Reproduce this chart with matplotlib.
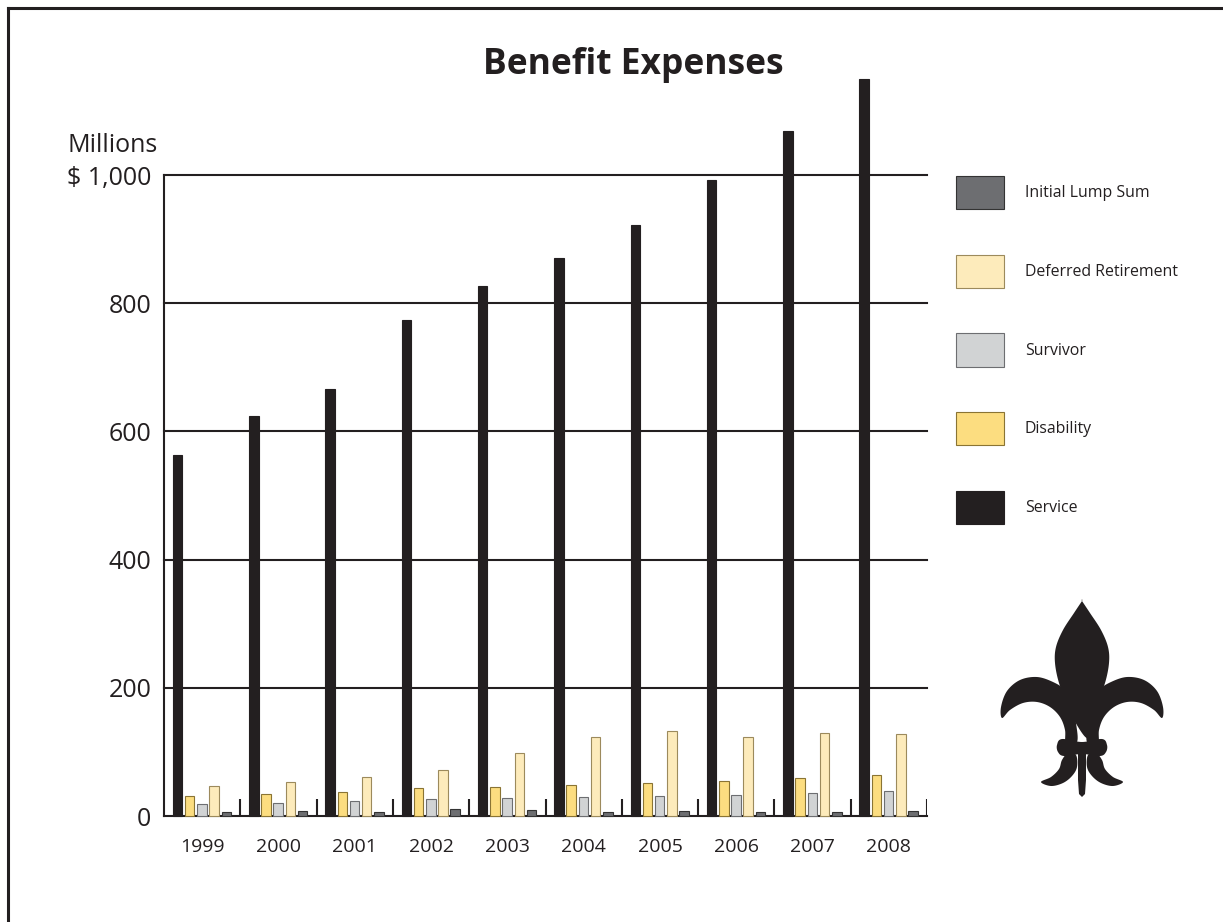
import numpy as np
import matplotlib.pyplot as plt
from matplotlib.lines import Line2D
from matplotlib.patches import Polygon, Rectangle
from matplotlib.transforms import Affine2D

plt.rcParams['font.family'] = ['Open Sans', 'DejaVu Sans']
plt.rcParams['text.color'] = '#231f20'

# benefit expenses, millions of dollars
years = ['1999', '2000', '2001', '2002', '2003', '2004', '2005', '2006', '2007', '2008']
service = [563, 624, 666, 774, 827, 870, 922, 992, 1069, 1150]
disability = [31, 35, 37, 43, 46, 48, 51, 55, 59, 64]
survivor = [19, 21, 23, 26, 28, 30, 31, 33, 36, 39]
deferred = [47, 53, 61, 71, 98, 124, 133, 123, 129, 128]
lump_sum = [7, 8, 6, 11, 9, 7, 8, 6, 6, 8]

y_ticks = [0, 200, 400, 600, 800, 1000]
y_labels = ['0', '200', '400', '600', '800', '$ 1,000']

series = [
    ('Service', service, '#231f20', '#231f20'),
    ('Disability', disability, '#fcdd80', '#8a7434'),
    ('Survivor', survivor, '#d1d3d4', '#6d6e71'),
    ('Deferred Retirement', deferred, '#fdebbb', '#9c8a5c'),
    ('Initial Lump Sum', lump_sum, '#6d6e71', '#333333'),
]
styles = {name: (fc, ec) for name, _, fc, ec in series}

W, H = 1223, 922
fig = plt.figure(figsize=(W / 100, H / 100), dpi=100)
ax = fig.add_axes([164 / W, 1 - 816 / H, (927 - 164) / W, (816 - 175) / H])

x = np.arange(len(years))
for k, (name, vals, fc, ec) in enumerate(series):
    ax.bar(x + 0.177 + 0.16 * k, vals, width=0.125, color=fc,
           edgecolor=ec, linewidth=0.8, clip_on=False, zorder=3, label=name)

ax.set_xlim(0, len(years))
ax.set_ylim(0, 1000)

# horizontal rules and group separators
for t in y_ticks[1:]:
    ax.axhline(t, color='#231f20', lw=1.5, zorder=1, clip_on=False)
ax.vlines(np.arange(1, len(years) + 1), 0, 27, color='#231f20', lw=1.5, zorder=2)

for s in ['top', 'right']:
    ax.spines[s].set_visible(False)
for s in ['left', 'bottom']:
    ax.spines[s].set_linewidth(1.5)
    ax.spines[s].set_color('#231f20')

ax.set_yticks(y_ticks)
ax.set_yticklabels(y_labels, fontsize=18, color='#231f20')
ax.set_xticks(x + 0.5)
ax.set_xticklabels(years, fontsize=14, color='#231f20')
ax.tick_params(axis='y', length=0, pad=9)
ax.tick_params(axis='x', length=0, pad=16)

fig.text(113 / W, 1 - 145 / H, 'Millions', fontsize=18, ha='center', va='center')
fig.text(633 / W, 1 - 65 / H, 'Benefit Expenses', fontsize=25.5, fontweight='bold',
         ha='center', va='center')

# legend, stacked top to bottom
order = ['Initial Lump Sum', 'Deferred Retirement', 'Survivor', 'Disability', 'Service']
for i, name in enumerate(order):
    fc, ec = styles[name]
    top = 176 + 78.75 * i
    fig.add_artist(Rectangle((956 / W, 1 - (top + 33) / H), 48 / W, 33 / H,
                             facecolor=fc, edgecolor=ec, lw=0.8,
                             transform=fig.transFigure))
    fig.text(1025 / W, 1 - (top + 17) / H, name, fontsize=11.4,
             ha='left', va='center')

# page frame (top and left edges)
fig.add_artist(Line2D([8 / W, 1], [1 - 8 / H, 1 - 8 / H], color='#231f20', lw=2.2))
fig.add_artist(Line2D([8 / W, 8 / W], [1 - 8 / H, 0], color='#231f20', lw=2.2))


def smooth(pts, n=12):
    # closed Catmull-Rom curve through the points
    p = np.asarray(pts, float)
    out = []
    m = len(p)
    for i in range(m):
        p0, p1, p2, p3 = p[i - 1], p[i], p[(i + 1) % m], p[(i + 2) % m]
        for t in np.linspace(0, 1, n, endpoint=False):
            t2, t3 = t * t, t * t * t
            out.append(0.5 * (2 * p1 + (-p0 + p2) * t + (2 * p0 - 5 * p1 + 4 * p2 - p3) * t2
                              + (-p0 + 3 * p1 - 3 * p2 + p3) * t3))
    return np.array(out)


def mirror(pts):
    return [(-u, v) for u, v in pts]


# fleur-de-lis emblem
petal_r = [(0, 199), (8, 187), (19, 170), (26, 153), (27, 137), (23, 117),
           (15, 97), (8, 80), (5, 62)]
petal = petal_r + mirror(petal_r[::-1])[1:]
wing_l = [(-5, 58), (-6, 77), (-10, 97), (-17, 110), (-29, 118), (-45, 123),
          (-62, 120), (-75, 109), (-81, 93), (-80, 82), (-72, 90), (-59, 97),
          (-45, 98), (-32, 93), (-22, 83), (-17, 70), (-16, 55)]
band = [(-20, 61), (0, 58), (20, 61), (25, 55), (24, 48), (18, 44), (0, 46),
        (-18, 44), (-24, 48), (-25, 55)]
foot_l = [(-14, 47), (-20, 40), (-23, 31), (-31, 23), (-41, 18), (-31, 14),
          (-19, 17), (-10, 24), (-5, 33), (-6, 45)]
stem = [(-4, 46), (-4, 20), (-3, 6), (0, 3), (3, 6), (4, 20), (4, 46)]

logo_tf = Affine2D().translate(1082, H - 800).scale(1 / 100) + fig.dpi_scale_trans
for shape in [petal, wing_l, mirror(wing_l), band, foot_l, mirror(foot_l)]:
    fig.add_artist(Polygon(smooth(shape), closed=True, facecolor='#231f20',
                           edgecolor='none', transform=logo_tf))
fig.add_artist(Polygon(np.array(stem), closed=True, facecolor='#231f20',
                       edgecolor='none', transform=logo_tf))

fig.savefig('out.png', dpi=100)
